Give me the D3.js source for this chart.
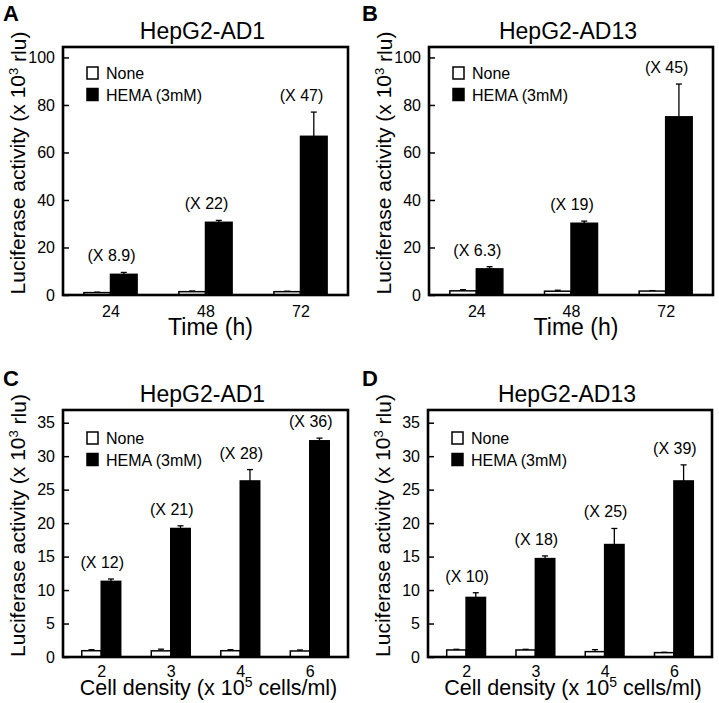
<!DOCTYPE html>
<html>
<head>
<meta charset="utf-8">
<script src="https://cdn.jsdelivr.net/npm/d3@7"></script>
<style>
  html, body { margin: 0; padding: 0; background: #fff; }
  svg { display: block; font-family: "Liberation Sans", Arial, Helvetica, sans-serif; }
</style>
</head>
<body>
<svg id="chart" width="719" height="703"></svg>
<script>
// ---------- data ----------
const timeCategories = ["24", "48", "72"];
const densityCategories = ["2", "3", "4", "6"];
const seriesNames = ["None", "HEMA (3mM)"];

const titles = ["HepG2-AD1", "HepG2-AD13", "HepG2-AD1", "HepG2-AD13"];
const panelLetters = ["A", "B", "C", "D"];

const yTicksTime = [0, 20, 40, 60, 80, 100];
const yTicksDensity = [0, 5, 10, 15, 20, 25, 30, 35];

// Panel A
const noneA = [1.0, 1.4, 1.4];
const noneErrA = [0.2, 0.3, 0.2];
const hemaA = [8.7, 30.6, 66.8];
const hemaErrA = [0.8, 0.8, 10.2];
const foldA = ["(X 8.9)", "(X 22)", "(X 47)"];

// Panel B
const noneB = [1.75, 1.6, 1.65];
const noneErrB = [0.5, 0.4, 0.2];
const hemaB = [11.0, 30.2, 75.0];
const hemaErrB = [0.9, 0.9, 13.8];
const foldB = ["(X 6.3)", "(X 19)", "(X 45)"];

// Panel C
const noneC = [0.94, 0.92, 0.94, 0.9];
const noneErrC = [0.15, 0.25, 0.15, 0.15];
const hemaC = [11.3, 19.2, 26.3, 32.3];
const hemaErrC = [0.35, 0.4, 1.7, 0.4];
const foldC = ["(X 12)", "(X 21)", "(X 28)", "(X 36)"];

// Panel D
const noneD = [1.05, 1.05, 0.8, 0.65];
const noneErrD = [0.1, 0.1, 0.3, 0.05];
const hemaD = [8.9, 14.7, 16.8, 26.3];
const hemaErrD = [0.7, 0.4, 2.4, 2.4];
const foldD = ["(X 10)", "(X 18)", "(X 25)", "(X 39)"];

// ---------- layout ----------
const FONT = '"Liberation Sans", Arial, Helvetica, sans-serif';
const panels = [
  { letter: panelLetters[0], title: titles[0], cats: timeCategories, none: noneA, noneErr: noneErrA, hema: hemaA, hemaErr: hemaErrA, fold: foldA,
    yTicks: yTicksTime, yMax: 104.4, x0: 63, x1: 348, y0: 47, y1: 295, pad: 0.5, xTitle: "time", lx: 3, ly: 21 },
  { letter: panelLetters[1], title: titles[1], cats: timeCategories, none: noneB, noneErr: noneErrB, hema: hemaB, hemaErr: hemaErrB, fold: foldB,
    yTicks: yTicksTime, yMax: 104.4, x0: 429, x1: 713, y0: 47, y1: 295, pad: 0.5, xTitle: "time", lx: 362, ly: 21 },
  { letter: panelLetters[2], title: titles[2], cats: densityCategories, none: noneC, noneErr: noneErrC, hema: hemaC, hemaErr: hemaErrC, fold: foldC,
    yTicks: yTicksDensity, yMax: 36.9, x0: 63, x1: 348, y0: 410, y1: 657, pad: 0.55, xTitle: "density", lx: 3, ly: 386 },
  { letter: panelLetters[3], title: titles[3], cats: densityCategories, none: noneD, noneErr: noneErrD, hema: hemaD, hemaErr: hemaErrD, fold: foldD,
    yTicks: yTicksDensity, yMax: 36.9, x0: 428, x1: 712, y0: 410, y1: 657, pad: 0.55, xTitle: "density", lx: 362, ly: 386 }
];

const svg = d3.select("#chart");

panels.forEach(p => {
  const g = svg.append("g");
  const x = d3.scalePoint().domain(p.cats).range([p.x0, p.x1]).padding(p.pad);
  const y = d3.scaleLinear().domain([0, p.yMax]).range([p.y1, p.y0]);
  const bw = x.step() * 0.28;

  // panel letter
  svg.append("text").attr("x", p.lx).attr("y", p.ly)
    .attr("font-size", 22).attr("font-weight", "bold").attr("fill", "#000").text(p.letter);

  // title
  g.append("text").attr("x", (p.x0 + p.x1) / 2 - 3).attr("y", p.y0 - 8)
    .attr("text-anchor", "middle").attr("font-size", 23).attr("fill", "#000").text(p.title);

  const rows = p.cats.map((c, i) => ({ c, i }));
  // error bars
  const errData = [];
  rows.forEach(r => {
    errData.push({ cx: x(r.c) - bw / 2, v: p.none[r.i], e: p.noneErr[r.i] });
    errData.push({ cx: x(r.c) + bw / 2, v: p.hema[r.i], e: p.hemaErr[r.i] });
  });
  const eg = g.append("g").attr("stroke", "#000").attr("stroke-width", 1.3);
  eg.selectAll("line.v").data(errData).join("line").attr("class", "v")
    .attr("x1", d => d.cx).attr("x2", d => d.cx)
    .attr("y1", d => y(d.v)).attr("y2", d => y(d.v + d.e));
  eg.selectAll("line.c").data(errData).join("line").attr("class", "c")
    .attr("x1", d => d.cx - 3).attr("x2", d => d.cx + 3)
    .attr("y1", d => y(d.v + d.e)).attr("y2", d => y(d.v + d.e));

  // bars
  g.selectAll("rect.none").data(rows).join("rect").attr("class", "none")
    .attr("x", d => x(d.c) - bw).attr("width", bw)
    .attr("y", d => y(p.none[d.i])).attr("height", d => y(0) - y(p.none[d.i]))
    .attr("fill", "#fff").attr("stroke", "#000").attr("stroke-width", 1.5);
  g.selectAll("rect.hema").data(rows).join("rect").attr("class", "hema")
    .attr("x", d => x(d.c)).attr("width", bw)
    .attr("y", d => y(p.hema[d.i])).attr("height", d => y(0) - y(p.hema[d.i]))
    .attr("fill", "#000").attr("stroke", "#000").attr("stroke-width", 1.5);

  // fold-change annotations
  g.selectAll("text.fold").data(rows).join("text").attr("class", "fold")
    .attr("x", d => x(d.c) + 1)
    .attr("y", d => y(p.hema[d.i] + p.hemaErr[d.i]) - 11)
    .attr("text-anchor", "middle").attr("font-size", 16).attr("fill", "#000")
    .text(d => p.fold[d.i]);

  // y axis (ticks inward)
  const yAxis = d3.axisRight(y).tickValues(p.yTicks).tickSize(6).tickFormat("");
  const ya = g.append("g").attr("transform", `translate(${p.x0},0)`).call(yAxis);
  ya.select(".domain").remove();
  ya.selectAll("line").attr("stroke", "#000").attr("stroke-width", 1.5);
  g.selectAll("text.ytl").data(p.yTicks).join("text").attr("class", "ytl")
    .attr("x", p.x0 - 8).attr("y", d => y(d)).attr("dy", "0.35em")
    .attr("text-anchor", "end").style("font-size", "16px").attr("fill", "#000").text(d => d);

  // x axis labels (no tick marks)
  const xAxis = d3.axisBottom(x).tickSize(0).tickPadding(p.xTitle === "time" ? 11 : 9);
  const xa = g.append("g").attr("transform", `translate(0,${p.y1})`).call(xAxis);
  xa.attr("font-size", null).attr("font-family", null);
  xa.select(".domain").remove();
  xa.selectAll("text").style("font-size", "16px").style("font-family", FONT).attr("fill", "#000");

  // frame
  g.append("rect").attr("x", p.x0).attr("y", p.y0).attr("width", p.x1 - p.x0).attr("height", p.y1 - p.y0)
    .attr("fill", "none").attr("stroke", "#000").attr("stroke-width", 2.6);

  // legend
  const lg = g.append("g");
  const lx = p.x0 + 24, ly = p.y0 + (p.y1 > 400 ? 22 : 20);
  lg.append("rect").attr("x", lx).attr("y", ly).attr("width", 11).attr("height", 12)
    .attr("fill", "#fff").attr("stroke", "#000").attr("stroke-width", 1.5);
  lg.append("rect").attr("x", lx).attr("y", ly + 21.5).attr("width", 11).attr("height", 12)
    .attr("fill", "#000").attr("stroke", "#000").attr("stroke-width", 1.5);
  lg.append("text").attr("x", lx + 19).attr("y", ly + 12).attr("font-size", 16).attr("fill", "#000").text(seriesNames[0]);
  lg.append("text").attr("x", lx + 19).attr("y", ly + 33.5).attr("font-size", 16).attr("fill", "#000").text(seriesNames[1]);

  // y axis title
  const yt = g.append("text")
    .attr("transform", `translate(${p.x0 - 38},${(p.y0 + p.y1) / 2 - 8}) rotate(-90)`)
    .attr("text-anchor", "middle").attr("font-size", 21).attr("fill", "#000");
  yt.append("tspan").text("Luciferase activity (x 10");
  yt.append("tspan").attr("font-size", 13).attr("dy", "-0.55em").text("3");
  yt.append("tspan").attr("dy", "0.38em").text(" rlu)");

  // x axis title
  const xt = g.append("text").attr("text-anchor", "middle").attr("fill", "#000");
  if (p.xTitle === "time") {
    xt.attr("x", (p.x0 + p.x1) / 2 + 5).attr("y", p.y1 + 40).attr("font-size", 23).text("Time (h)");
  } else {
    xt.attr("x", (p.x0 + p.x1) / 2 + 3).attr("y", p.y1 + 38).attr("font-size", 21.5);
    xt.append("tspan").text("Cell density (x 10");
    xt.append("tspan").attr("font-size", 14).attr("dy", "-0.55em").text("5");
    xt.append("tspan").attr("dy", "0.36em").text(" cells/ml)");
  }
});
</script>
</body>
</html>
